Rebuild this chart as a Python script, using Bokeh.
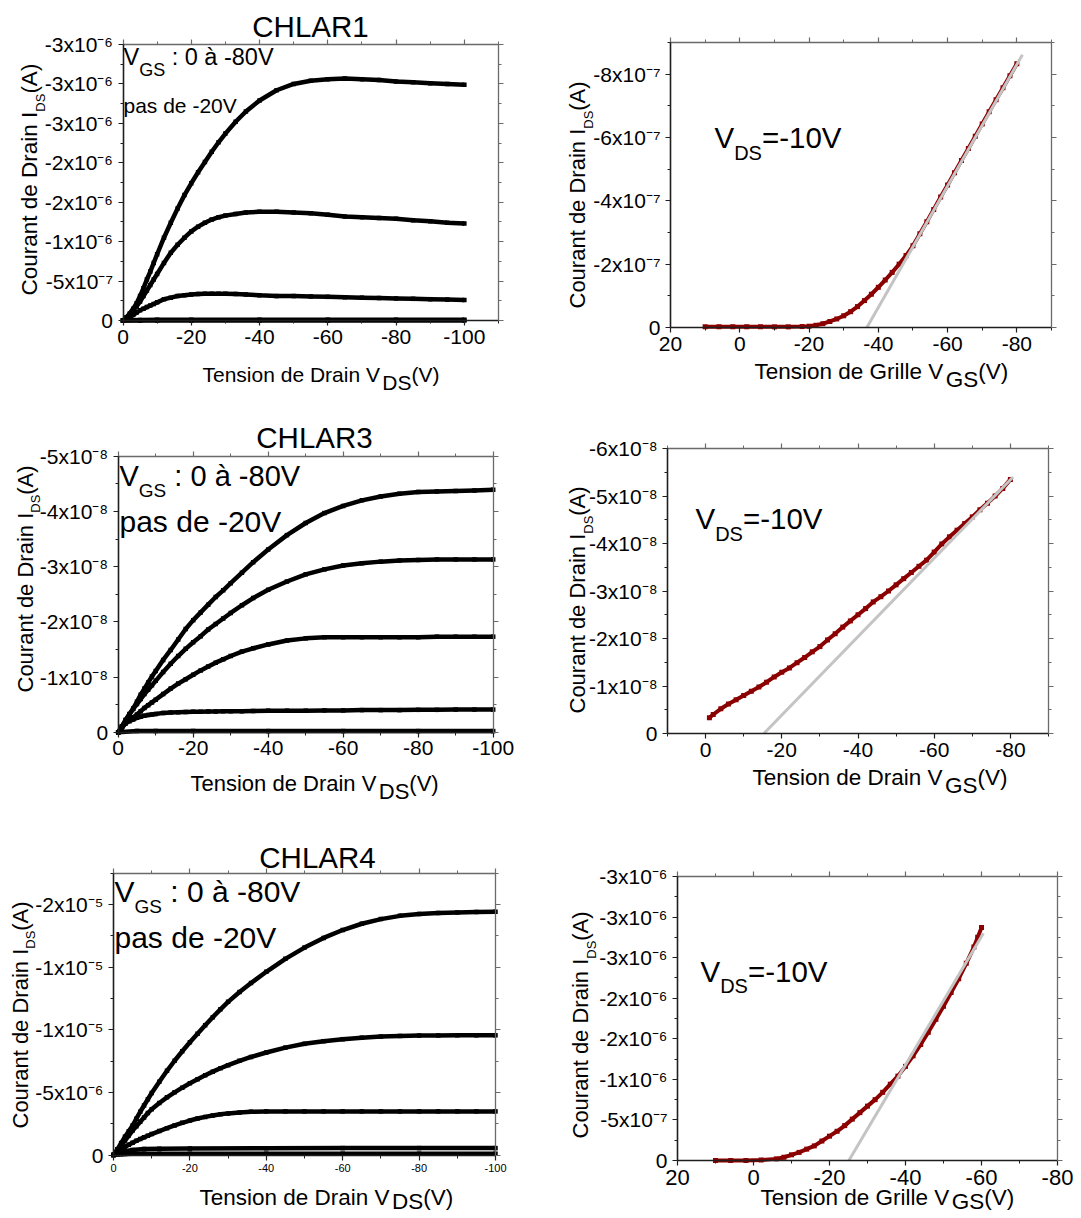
import math
from bokeh.plotting import figure
from bokeh.models import Range1d, LinearAxis, FixedTicker, Label, CustomJSTickFormatter
from bokeh.layouts import column, row
from bokeh.embed import file_html
from bokeh.resources import INLINE

FONT = "Liberation Sans"

# ----------------------------------------------------------------- data
# Output characteristics: drain voltage grid (V)
vds_grid = [0, -1, -2, -3, -4, -5, -6, -7, -8, -9, -10, -12, -14, -16, -18, -20, -22, -24,
            -26, -28, -30, -33, -36, -40, -45, -50, -55, -60, -65, -70, -75, -80, -85, -90, -95, -100]

# CHLAR1 output curves, I_DS in units of 1e-6 A
chlar1_vgs_m80 = [0, -0.04, -0.09, -0.15, -0.22, -0.31, -0.41, -0.52, -0.62, -0.73, -0.84, -1.05, -1.24,
                  -1.42, -1.59, -1.74, -1.88, -2.01, -2.14, -2.26, -2.37, -2.52, -2.65, -2.79, -2.92, -3.00,
                  -3.04, -3.06, -3.07, -3.06, -3.05, -3.03, -3.02, -3.01, -3.00, -2.99]
chlar1_vgs_m60 = [0, -0.03, -0.08, -0.13, -0.18, -0.24, -0.31, -0.38, -0.45, -0.52, -0.59, -0.73, -0.86,
                  -0.96, -1.05, -1.13, -1.19, -1.24, -1.28, -1.31, -1.33, -1.35, -1.37, -1.38, -1.38, -1.37,
                  -1.36, -1.34, -1.32, -1.31, -1.30, -1.29, -1.27, -1.26, -1.24, -1.23]
chlar1_vgs_m40 = [0, -0.01, -0.04, -0.07, -0.10, -0.13, -0.15, -0.17, -0.19, -0.21, -0.23, -0.27, -0.29,
                  -0.31, -0.32, -0.33, -0.335, -0.34, -0.34, -0.34, -0.34, -0.335, -0.33, -0.32, -0.31, -0.31,
                  -0.305, -0.30, -0.295, -0.29, -0.285, -0.28, -0.275, -0.27, -0.265, -0.26]
chlar1_vds_low = [0, -5, -10, -20, -40, -60, -80, -100]
chlar1_vgs_m20 = [0, -0.006, -0.009, -0.01, -0.01, -0.01, -0.01, -0.01]
chlar1_vgs_0 = [0, 0, 0, 0, 0, 0, 0, 0]

# CHLAR3 output curves, I_DS in units of 1e-8 A
chlar3_vgs_m80 = [0, -0.10, -0.22, -0.33, -0.43, -0.55, -0.68, -0.79, -0.90, -1.01, -1.11, -1.31, -1.49,
                  -1.68, -1.87, -2.03, -2.17, -2.31, -2.45, -2.57, -2.70, -2.89, -3.08, -3.31, -3.57, -3.79,
                  -3.97, -4.10, -4.20, -4.27, -4.32, -4.35, -4.36, -4.37, -4.38, -4.39]
chlar3_vgs_m60 = [0, -0.11, -0.22, -0.32, -0.42, -0.51, -0.60, -0.69, -0.77, -0.85, -0.93, -1.09, -1.24,
                  -1.38, -1.51, -1.63, -1.74, -1.86, -1.96, -2.06, -2.16, -2.30, -2.43, -2.58, -2.73, -2.86,
                  -2.95, -3.02, -3.06, -3.09, -3.11, -3.12, -3.13, -3.13, -3.13, -3.13]
chlar3_vgs_m40 = [0, -0.08, -0.16, -0.22, -0.27, -0.32, -0.38, -0.44, -0.49, -0.54, -0.59, -0.69, -0.79,
                  -0.88, -0.96, -1.04, -1.12, -1.19, -1.26, -1.32, -1.38, -1.46, -1.52, -1.59, -1.66, -1.70,
                  -1.72, -1.72, -1.72, -1.72, -1.72, -1.72, -1.73, -1.73, -1.73, -1.73]
chlar3_vgs_m20 = [0, -0.10, -0.16, -0.20, -0.23, -0.26, -0.28, -0.30, -0.31, -0.32, -0.33, -0.35, -0.355,
                  -0.36, -0.365, -0.37, -0.37, -0.375, -0.375, -0.38, -0.38, -0.38, -0.385, -0.39, -0.39,
                  -0.39, -0.395, -0.395, -0.40, -0.40, -0.40, -0.405, -0.405, -0.41, -0.41, -0.41]
chlar3_vds_low = [0, -5, -10, -20, -40, -60, -80, -100]
chlar3_vgs_0 = [0, -0.02, -0.02, -0.02, -0.02, -0.02, -0.02, -0.02]

# CHLAR4 output curves, I_DS in units of 1e-6 A
chlar4_vgs_m80 = [0, -0.45, -0.95, -1.45, -1.90, -2.35, -2.90, -3.45, -3.95, -4.45, -4.95, -5.85, -6.72,
                  -7.52, -8.28, -9.00, -9.68, -10.35, -11.00, -11.62, -12.22, -13.00, -13.72, -14.62, -15.65,
                  -16.55, -17.32, -17.95, -18.45, -18.82, -19.08, -19.22, -19.30, -19.35, -19.38, -19.40]
chlar4_vgs_m60 = [0, -0.35, -0.75, -1.15, -1.55, -1.95, -2.30, -2.65, -3.00, -3.35, -3.65, -4.15, -4.60,
                  -5.00, -5.37, -5.72, -6.05, -6.36, -6.65, -6.92, -7.17, -7.51, -7.82, -8.18, -8.57, -8.87,
                  -9.08, -9.24, -9.36, -9.45, -9.50, -9.53, -9.54, -9.55, -9.55, -9.55]
chlar4_vgs_m40 = [0, -0.22, -0.45, -0.65, -0.82, -0.98, -1.14, -1.28, -1.41, -1.54, -1.67, -1.91, -2.14,
                  -2.36, -2.57, -2.75, -2.91, -3.04, -3.15, -3.25, -3.32, -3.40, -3.45, -3.48, -3.48, -3.48,
                  -3.48, -3.48, -3.48, -3.48, -3.48, -3.48, -3.48, -3.48, -3.48, -3.48]
chlar4_vds_low = [0, -1, -2, -3, -5, -8, -12, -20, -40, -60, -80, -100]
chlar4_vgs_m20 = [0, -0.12, -0.22, -0.30, -0.40, -0.47, -0.50, -0.52, -0.54, -0.55, -0.55, -0.55]
chlar4_vgs_0 = [0, -0.03, -0.05, -0.07, -0.09, -0.10, -0.10, -0.10, -0.10, -0.10, -0.10, -0.10]

# Transfer curves at V_DS = -10 V
chlar1_vgs_sweep = [10, 6, 2, -2, -6, -10, -14, -18, -20, -22, -24, -26, -28, -30, -32, -34, -36, -38,
                    -40, -42, -44, -46, -48, -50, -52, -54, -56, -58, -60, -62, -64, -66, -68, -70, -72,
                    -74, -76, -78, -80]
chlar1_ids_sweep = [-0.02, -0.02, -0.02, -0.02, -0.02, -0.02, -0.02, -0.03, -0.04, -0.07, -0.12, -0.19,
                    -0.27, -0.37, -0.50, -0.66, -0.85, -1.05, -1.27, -1.50, -1.74, -2.00, -2.27, -2.58,
                    -2.96, -3.34, -3.73, -4.12, -4.50, -4.89, -5.27, -5.65, -6.04, -6.43, -6.81, -7.19,
                    -7.57, -7.95, -8.33]          # 1e-7 A
chlar1_fit_vgs = [-36.7, -81.6]
chlar1_fit_ids = [0, -8.61]                        # 1e-7 A

chlar3_vgs_sweep = [-1, -2, -4, -6, -8, -10, -12, -14, -16, -18, -20, -22, -24, -26, -28, -30, -32, -34,
                    -36, -38, -40, -42, -44, -46, -48, -50, -52, -54, -56, -58, -60, -62, -64, -66, -68,
                    -70, -72, -74, -76, -78, -80]
chlar3_ids_sweep = [-0.33, -0.40, -0.52, -0.62, -0.71, -0.80, -0.89, -0.98, -1.08, -1.19, -1.29, -1.38,
                    -1.49, -1.60, -1.72, -1.83, -1.97, -2.10, -2.24, -2.37, -2.50, -2.63, -2.77, -2.88,
                    -3.00, -3.13, -3.26, -3.39, -3.52, -3.65, -3.82, -3.99, -4.14, -4.28, -4.42, -4.56,
                    -4.71, -4.85, -5.00, -5.16, -5.35]   # 1e-8 A
chlar3_fit_vgs = [-15.3, -80.7]
chlar3_fit_ids = [0, -5.40]                        # 1e-8 A

chlar4_vgs_sweep = [10, 6, 2, -2, -6, -8, -10, -12, -14, -16, -18, -20, -22, -24, -26, -28, -30, -32,
                    -34, -36, -38, -40, -42, -44, -46, -48, -50, -52, -54, -56, -58, -59, -60]
chlar4_ids_sweep = [0, 0, 0, -0.005, -0.02, -0.04, -0.07, -0.10, -0.14, -0.18, -0.24, -0.30, -0.36,
                    -0.43, -0.51, -0.59, -0.67, -0.75, -0.84, -0.94, -1.04, -1.16, -1.29, -1.43, -1.58,
                    -1.74, -1.90, -2.07, -2.24, -2.43, -2.63, -2.75, -2.87]   # 1e-6 A
chlar4_fit_vgs = [-25.1, -60.5]
chlar4_fit_ids = [0, -2.80]                        # 1e-6 A

# tick labels
ylab_p1 = ["0", "-5x10⁻⁷", "-1x10⁻⁶", "-2x10⁻⁶", "-2x10⁻⁶", "-3x10⁻⁶", "-3x10⁻⁶", "-3x10⁻⁶"]
ylab_p2 = ["0", "-2x10⁻⁷", "-4x10⁻⁷", "-6x10⁻⁷", "-8x10⁻⁷"]
ylab_p3 = ["0", "-1x10⁻⁸", "-2x10⁻⁸", "-3x10⁻⁸", "-4x10⁻⁸", "-5x10⁻⁸"]
ylab_p4 = ["0", "-1x10⁻⁸", "-2x10⁻⁸", "-3x10⁻⁸", "-4x10⁻⁸", "-5x10⁻⁸", "-6x10⁻⁸"]
ylab_p5 = ["0", "-5x10⁻⁶", "-1x10⁻⁵", "-1x10⁻⁵", "-2x10⁻⁵"]
ylab_p6 = ylab_p1

# ----------------------------------------------------------------- helpers
ARIAL = {' ': 278, '(': 333, ')': 333, '-': 333, '=': 584, ':': 278, 'A': 667, 'C': 722, 'D': 722,
         'G': 778, 'H': 722, 'I': 278, 'L': 556, 'R': 722, 'S': 667, 'T': 611, 'V': 667, 'a': 556,
         'à': 556, 'c': 500, 'd': 556, 'e': 556, 'i': 222, 'l': 222, 'n': 556, 'o': 556, 'p': 556,
         'r': 333, 's': 500, 't': 278, 'u': 556, 'x': 500}
BASE_SHIFT = 0.38   # label anchor lies this many em above the drawn baseline


def tw(s, size):
    return sum(ARIAL.get(c, 556) for c in s) / 1000.0 * size


class Panel:
    """A figure whose frame fills its whole cell; the plot box is drawn with
    axes pinned (fixed_location) to the box edges, so that every text can sit
    inside the frame."""

    def __init__(self, cell, box, bx, by):
        self.cell, self.box, self.bx, self.by = cell, box, bx, by
        cx0, cy0, cx1, cy1 = cell
        xr = (self.x_at(cx0), self.x_at(cx1))
        yr = (self.y_at(cy1), self.y_at(cy0))
        p = figure(width=cx1 - cx0, height=cy1 - cy0,
                   x_range=Range1d(*xr), y_range=Range1d(*yr),
                   output_backend="svg", toolbar_location=None, tools="",
                   x_axis_type=None, y_axis_type=None,
                   min_border=0, min_border_left=0, min_border_right=0,
                   min_border_top=0, min_border_bottom=0)
        p.outline_line_color = None
        p.background_fill_color = "white"
        p.border_fill_color = "white"
        self.p = p

    def x_at(self, px):
        L, T, R, B = self.box
        return self.bx[0] + (px - L) / (R - L) * (self.bx[1] - self.bx[0])

    def y_at(self, py):
        L, T, R, B = self.box
        return self.by[0] + (B - py) / (B - T) * (self.by[1] - self.by[0])

    def text(self, px, py, s, size, angle=0.0):
        if angle:
            px -= BASE_SHIFT * size
        else:
            py -= BASE_SHIFT * size
        self.p.add_layout(Label(x=self.x_at(px), y=self.y_at(py), text=s, text_font=FONT,
                                text_font_size=f"{size}px", text_color="black",
                                text_align="left", text_baseline="alphabetic", angle=angle))

    def rich(self, px, py, parts, vertical=False, center=False):
        total = sum(tw(t, s) for t, s, d in parts)
        off = -total / 2 if center else 0.0
        for t, s, d in parts:
            lead = len(t) - len(t.lstrip(" "))
            off += tw(" " * lead, s)
            t = t.lstrip(" ")
            if vertical:
                self.text(px + d, py - off, t, s, angle=math.pi / 2)
            else:
                self.text(px + off, py + d, t, s)
            off += tw(t, s)

    def axes(self, xt, xminor, yt, yminor, ylabels, xfs, yfs):
        p = self.p
        dark, grey = "#1e1e1e", "#6a6a6a"
        xb_ = (min(self.bx), max(self.bx))
        yb_ = (min(self.by), max(self.by))
        xfmt = CustomJSTickFormatter(code="return String(Math.round(tick));")
        yfmt = CustomJSTickFormatter(args=dict(vals=yt, labs=ylabels), code="""
            let k = 0, d = Infinity;
            for (let i = 0; i < vals.length; i++) {
                const e = Math.abs(vals[i] - tick);
                if (e < d) { d = e; k = i; }
            }
            return labs[k];""")
        blank = CustomJSTickFormatter(code="return '';")

        def make(ticks, minor, fmt, loc, bounds, color, lw, fs, standoff):
            ax = LinearAxis(ticker=FixedTicker(ticks=ticks, minor_ticks=minor), formatter=fmt,
                            fixed_location=loc, bounds=bounds)
            ax.axis_line_color = color
            ax.axis_line_width = lw
            ax.major_tick_line_color = color
            ax.minor_tick_line_color = color
            ax.major_tick_line_width = 1.2
            ax.minor_tick_line_width = 1.0
            ax.major_tick_in = 0
            ax.major_tick_out = 5
            ax.minor_tick_in = 0
            ax.minor_tick_out = 3
            ax.major_label_text_font = FONT
            ax.major_label_text_font_size = f"{fs}px"
            ax.major_label_text_color = "black"
            ax.major_label_standoff = standoff
            return ax

        p.add_layout(make(xt, xminor, xfmt, self.by[0], xb_, dark, 1.6, xfs, 4), "below")
        p.add_layout(make(yt, yminor, yfmt, self.bx[0], yb_, dark, 1.6, yfs, 5), "left")
        p.add_layout(make(xt, xminor, blank, self.by[1], xb_, grey, 1.3, 1, 0), "above")
        p.add_layout(make(yt, yminor, blank, self.bx[1], yb_, grey, 1.3, 1, 0), "right")

    def curve(self, xs, ys, unit, color="black", size=4.5, lw=4.5):
        yv = [v * unit for v in ys]
        self.p.line(xs, yv, line_color=color, line_width=lw)
        self.p.scatter(xs, yv, marker="square", size=size, fill_color=color, line_color=None)

    def fit(self, xs, ys, unit):
        self.p.line(xs, [v * unit for v in ys], line_color="#c4c4c4", line_width=3)


DARKRED = "#8b0000"
YT = "Courant de Drain I"

# ----------------------------------------------------------------- panel 1: CHLAR1 output
P1 = Panel((0, 0, 560, 408), (122.5, 44, 498, 320), (0, -110), (0, -3.5e-6))
P1.axes([0, -20, -40, -60, -80, -100], [-10, -30, -50, -70, -90, -110],
        [0, -5e-7, -1e-6, -1.5e-6, -2e-6, -2.5e-6, -3e-6, -3.5e-6],
        [-2.5e-7, -7.5e-7, -1.25e-6, -1.75e-6, -2.25e-6, -2.75e-6, -3.25e-6], ylab_p1, 21, 21)
for ys in (chlar1_vgs_m80, chlar1_vgs_m60, chlar1_vgs_m40):
    P1.curve(vds_grid, ys, 1e-6)
for ys in (chlar1_vgs_m20, chlar1_vgs_0):
    P1.curve(chlar1_vds_low, ys, 1e-6)
P1.rich(310, 37, [("CHLAR1", 29.5, 0)], center=True)
P1.rich(123, 65, [("V", 23.5, 0), ("GS", 18, 11), (" : 0 à -80V", 23.5, 0)])
P1.rich(123, 113, [("pas de -20V", 21, 0)])
P1.rich(202, 382, [("Tension de Drain V", 21, 0), ("DS", 21, 8), ("(V)", 21, 0)])
P1.rich(38, 295, [(YT, 22.5, 0), ("DS", 13, 7), ("(A)", 22.5, 0)], vertical=True)

# ----------------------------------------------------------------- panel 2: CHLAR1 transfer
P2 = Panel((560, 0, 1078, 408), (670, 42, 1051, 327), (20, -90), (0, -9e-7))
P2.axes([20, 0, -20, -40, -60, -80], [10, -10, -30, -50, -70, -90],
        [0, -2e-7, -4e-7, -6e-7, -8e-7], [-1e-7, -3e-7, -5e-7, -7e-7, -9e-7], ylab_p2, 21, 21)
P2.curve(chlar1_vgs_sweep, chlar1_ids_sweep, 1e-7, color=DARKRED, size=5, lw=4)
P2.fit(chlar1_fit_vgs, chlar1_fit_ids, 1e-7)
P2.rich(714, 148, [("V", 29.5, 0), ("DS", 20, 12), ("=-10V", 29.5, 0)])
P2.rich(754, 380, [("Tension de Grille V", 22.5, 0), ("GS", 22.5, 8), ("(V)", 22.5, 0)])
P2.rich(585, 308, [(YT, 22, 0), ("DS", 13, 8), ("(A)", 22, 0)], vertical=True)

# ----------------------------------------------------------------- panel 3: CHLAR3 output
P3 = Panel((0, 408, 560, 818), (117.7, 455.7, 492.7, 731.7), (0, -100), (0, -5e-8))
P3.axes([0, -20, -40, -60, -80, -100], [-10, -30, -50, -70, -90],
        [0, -1e-8, -2e-8, -3e-8, -4e-8, -5e-8], [-0.5e-8, -1.5e-8, -2.5e-8, -3.5e-8, -4.5e-8],
        ylab_p3, 21, 21)
for ys in (chlar3_vgs_m80, chlar3_vgs_m60, chlar3_vgs_m40, chlar3_vgs_m20):
    P3.curve(vds_grid, ys, 1e-8)
P3.curve(chlar3_vds_low, chlar3_vgs_0, 1e-8)
P3.rich(314, 448, [("CHLAR3", 29.5, 0)], center=True)
P3.rich(119, 487, [("V", 29, 0), ("GS", 19, 10), (" : 0 à -80V", 29, 0)])
P3.rich(119, 532, [("pas de -20V", 30, 0)])
P3.rich(190, 791, [("Tension de Drain V", 22, 0), ("DS", 22, 8), ("(V)", 22, 0)])
P3.rich(33, 692, [(YT, 22, 0), ("DS", 13, 7), ("(A)", 22, 0)], vertical=True)

# ----------------------------------------------------------------- panel 4: CHLAR3 transfer
P4 = Panel((560, 408, 1078, 818), (667, 448, 1048, 733), (10, -90), (0, -6e-8))
P4.axes([0, -20, -40, -60, -80], [10, -10, -30, -50, -70, -90],
        [0, -1e-8, -2e-8, -3e-8, -4e-8, -5e-8, -6e-8],
        [-0.5e-8, -1.5e-8, -2.5e-8, -3.5e-8, -4.5e-8, -5.5e-8], ylab_p4, 21, 21)
P4.curve(chlar3_vgs_sweep, chlar3_ids_sweep, 1e-8, color=DARKRED, size=5, lw=4)
P4.fit(chlar3_fit_vgs, chlar3_fit_ids, 1e-8)
P4.rich(695, 529, [("V", 29.5, 0), ("DS", 20, 12), ("=-10V", 29.5, 0)])
P4.rich(752, 786, [("Tension de Drain V", 22.5, 0), ("GS", 22.5, 8), ("(V)", 22.5, 0)])
P4.rich(585, 713, [(YT, 22, 0), ("DS", 13, 8), ("(A)", 22, 0)], vertical=True)

# ----------------------------------------------------------------- panel 5: CHLAR4 output
P5 = Panel((0, 818, 560, 1216), (113, 872.5, 495, 1154.5), (0, -100), (0, -2.25e-5))
P5.axes([0, -20, -40, -60, -80, -100], [-10, -30, -50, -70, -90],
        [0, -5e-6, -1e-5, -1.5e-5, -2e-5], [-2.5e-6, -7.5e-6, -1.25e-5, -1.75e-5, -2.25e-5],
        ylab_p5, 11, 21)
for ys in (chlar4_vgs_m80, chlar4_vgs_m60, chlar4_vgs_m40):
    P5.curve(vds_grid, ys, 1e-6)
for ys in (chlar4_vgs_m20, chlar4_vgs_0):
    P5.curve(chlar4_vds_low, ys, 1e-6)
P5.rich(317, 868, [("CHLAR4", 29.5, 0)], center=True)
P5.rich(114, 902, [("V", 30, 0), ("GS", 19, 11), (" : 0 à -80V", 30, 0)])
P5.rich(114, 948, [("pas de -20V", 30, 0)])
P5.rich(199, 1206, [("Tension de Drain V", 22.5, 0), ("DS", 22.5, 4), ("(V)", 22.5, 0)])
P5.rich(28, 1128, [(YT, 22, 0), ("DS", 13, 7), ("(A)", 22, 0)], vertical=True)

# ----------------------------------------------------------------- panel 6: CHLAR4 transfer
P6 = Panel((560, 818, 1078, 1216), (677, 876, 1057, 1160), (20, -80), (0, -3.5e-6))
P6.axes([20, 0, -20, -40, -60, -80], [10, -10, -30, -50, -70],
        [0, -5e-7, -1e-6, -1.5e-6, -2e-6, -2.5e-6, -3e-6, -3.5e-6],
        [-2.5e-7, -7.5e-7, -1.25e-6, -1.75e-6, -2.25e-6, -2.75e-6, -3.25e-6], ylab_p6, 22, 21)
P6.curve(chlar4_vgs_sweep, chlar4_ids_sweep, 1e-6, color=DARKRED, size=5, lw=4)
P6.fit(chlar4_fit_vgs, chlar4_fit_ids, 1e-6)
P6.rich(700, 982, [("V", 29.5, 0), ("DS", 20, 11), ("=-10V", 29.5, 0)])
P6.rich(760, 1206, [("Tension de Grille V", 22.5, 0), ("GS", 22.5, 4), ("(V)", 22.5, 0)])
P6.rich(588, 1138, [(YT, 22, 0), ("DS", 13, 8), ("(A)", 22, 0)], vertical=True)

layout = column(row(P1.p, P2.p), row(P3.p, P4.p), row(P5.p, P6.p))
open("out.html", "w").write(file_html(layout, INLINE))
